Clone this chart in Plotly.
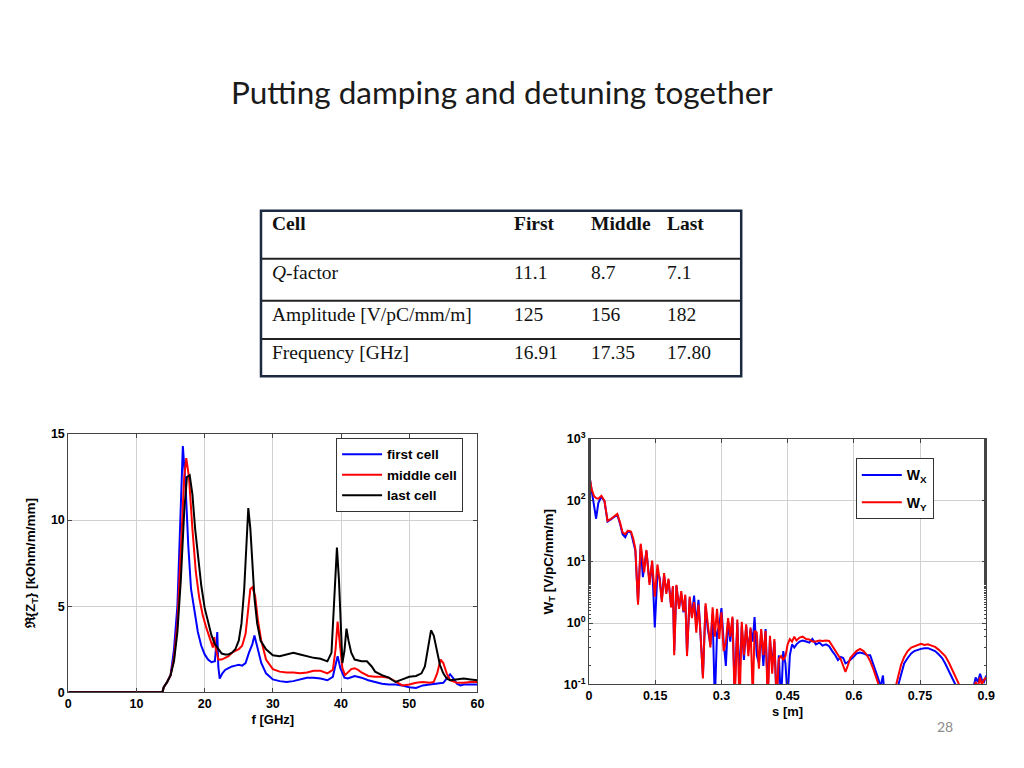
import plotly.graph_objects as go

# ---------------- Data ----------------
slide_title = "Putting damping and detuning together"
page_number = "28"

table_header = ["Cell", "First", "Middle", "Last"]
table_rows = [
    ["<i>Q</i>-factor", "11.1", "8.7", "7.1"],
    ["Amplitude [V/pC/mm/m]", "125", "156", "182"],
    ["Frequency [GHz]", "16.91", "17.35", "17.80"],
]

# Left plot: Re{Z_T} vs f
f_first = [0, 13.8, 14.0, 14.5, 15.0, 15.5, 16.0, 16.4, 16.8, 17.2, 17.6, 18.0, 18.5, 19.0, 19.5, 20.0,
           20.5, 21.0, 21.5, 21.7, 21.85, 22.0, 22.2, 22.6, 23.0, 23.5, 24.0, 24.5, 25.0, 25.5, 26.0, 26.5,
           27.0, 27.3, 27.8, 28.3, 29.0, 30.0, 31.0, 32.0, 33.0, 34.0, 35.0, 36.0, 37.0, 38.0, 38.8, 39.2,
           39.5, 39.9, 40.5, 41.0, 42.0, 43.0, 44.0, 45.0, 46.0, 47.0, 48.0, 49.0, 50.0, 51.0, 52.0, 53.0,
           54.0, 55.0, 55.5, 56.0, 56.5, 57.0, 57.5, 58.0, 59.0, 60.0]
z_first = [0, 0, 0.3, 0.6, 1.0, 2.5, 5.0, 9.5, 14.3, 12.0, 8.5, 6.0, 4.6, 3.5, 2.7, 2.2,
           1.9, 1.75, 1.8, 2.6, 3.5, 1.5, 0.8, 1.1, 1.3, 1.4, 1.5, 1.55, 1.6, 1.55, 1.7, 2.3,
           2.8, 3.3, 2.4, 1.7, 1.1, 0.75, 0.65, 0.6, 0.65, 0.75, 0.85, 0.85, 0.8, 0.7, 0.9, 1.6,
           2.1, 1.4, 0.85, 0.8, 0.95, 0.85, 0.7, 0.6, 0.5, 0.45, 0.45, 0.4, 0.3, 0.25, 0.4, 0.45,
           0.5, 0.55, 0.8, 1.05, 0.8, 0.5, 0.4, 0.45, 0.45, 0.45]

f_middle = [0, 13.8, 14.0, 14.5, 15.0, 15.5, 16.0, 16.5, 17.0, 17.3, 17.7, 18.2, 18.7, 19.2, 19.7, 20.2,
            20.7, 21.0, 21.2, 21.4, 21.6, 22.0, 22.5, 23.0, 23.5, 24.0, 24.5, 25.0, 25.5, 26.0, 26.3, 26.7,
            27.0, 27.4, 27.8, 28.3, 29.0, 30.0, 31.0, 32.0, 33.0, 34.0, 35.0, 36.0, 37.0, 38.0, 38.8, 39.2,
            39.5, 39.8, 40.2, 40.6, 41.0, 41.5, 42.0, 42.5, 43.0, 44.0, 45.0, 46.0, 47.0, 48.0, 49.0, 50.0,
            51.0, 52.0, 53.0, 53.6, 54.1, 54.6, 55.0, 55.5, 56.0, 57.0, 58.0, 59.0, 60.0]
z_middle = [0, 0, 0.3, 0.6, 1.0, 2.0, 4.0, 8.0, 12.5, 13.6, 12.5, 9.5, 7.0, 5.5, 4.5, 3.8,
            3.2, 2.8, 2.6, 3.2, 2.6, 1.9, 1.9, 2.0, 2.1, 2.3, 2.4, 2.5, 2.7, 3.4, 4.5, 6.0,
            6.1, 5.6, 4.2, 3.0, 1.9, 1.35, 1.2, 1.15, 1.15, 1.1, 1.15, 1.25, 1.25, 1.1, 1.3, 2.5,
            4.1, 3.0, 1.4, 1.0, 1.15, 1.35, 1.4, 1.3, 1.15, 0.95, 0.9, 0.9, 0.85, 0.6, 0.4, 0.45,
            0.55, 0.6, 0.55, 0.6, 1.1, 1.9, 1.7, 1.1, 0.7, 0.55, 0.55, 0.6, 0.6]

f_last = [0, 13.8, 14.0, 14.5, 15.0, 15.5, 16.0, 16.5, 17.0, 17.4, 17.8, 18.2, 18.6, 19.0, 19.5, 20.0,
          20.5, 21.0, 21.5, 22.0, 22.5, 23.0, 23.5, 24.0, 24.5, 25.0, 25.4, 25.8, 26.1, 26.4, 26.7, 27.0,
          27.3, 27.7, 28.2, 29.0, 30.0, 31.0, 32.0, 33.0, 34.0, 35.0, 36.0, 37.0, 38.0, 38.6, 39.0, 39.4,
          39.7, 40.0, 40.2, 40.5, 40.8, 41.1, 41.5, 42.0, 43.0, 43.8, 44.5, 45.0, 46.0, 47.0, 48.0, 49.0,
          50.0, 51.0, 51.8, 52.3, 52.8, 53.2, 53.6, 54.0, 54.5, 55.0, 55.5, 56.0, 57.0, 58.0, 59.0, 60.0]
z_last = [0, 0, 0.3, 0.6, 1.0, 1.8, 3.5, 6.5, 10.5, 12.5, 12.6, 11.5, 9.5, 8.0, 6.2, 4.9,
          4.0, 3.3, 2.8, 2.5, 2.25, 2.2, 2.2, 2.3, 2.5, 3.0, 4.0, 6.0, 8.5, 10.7, 9.5, 7.5,
          5.5, 4.0, 3.0, 2.5, 2.15, 2.1, 2.2, 2.3, 2.2, 2.1, 2.0, 1.95, 1.8, 2.3, 5.0, 8.4,
          6.5, 3.5, 1.7, 2.4, 3.7, 3.0, 2.3, 1.9, 1.8, 1.8, 1.5, 1.2, 1.0, 0.85, 0.6, 0.75,
          0.9, 0.95, 1.1, 1.5, 2.7, 3.6, 3.3, 2.5, 1.6, 1.1, 0.8, 0.7, 0.75, 0.8, 0.75, 0.7]

# Right plot: W_T vs s
s_m = [0.000, 0.006, 0.011, 0.016, 0.021, 0.028, 0.035, 0.042, 0.050, 0.058, 0.064, 0.070, 0.076, 0.082,
       0.088, 0.095, 0.100, 0.105, 0.111, 0.117, 0.122, 0.125, 0.130, 0.137, 0.143, 0.149, 0.155, 0.160,
       0.165, 0.170, 0.175, 0.180, 0.186, 0.190, 0.193, 0.198, 0.204, 0.209, 0.214, 0.218, 0.222, 0.228,
       0.233, 0.238, 0.243, 0.248, 0.252, 0.258, 0.264, 0.269, 0.275, 0.280, 0.285, 0.290, 0.295, 0.300,
       0.305, 0.310, 0.315, 0.320, 0.325, 0.330, 0.336, 0.341, 0.346, 0.351, 0.356, 0.361, 0.366, 0.371,
       0.375, 0.380, 0.385, 0.390, 0.395, 0.400, 0.405, 0.410, 0.415, 0.420, 0.425, 0.430, 0.435, 0.440,
       0.445, 0.450, 0.455, 0.460, 0.465, 0.470, 0.477, 0.484, 0.492, 0.499, 0.506, 0.514, 0.522, 0.529,
       0.537, 0.544, 0.551, 0.558, 0.564, 0.570, 0.576, 0.581, 0.586, 0.592, 0.599, 0.606, 0.614, 0.622,
       0.630, 0.637, 0.644, 0.651, 0.656, 0.660, 0.666, 0.670, 0.680, 0.690, 0.696, 0.701, 0.707, 0.714,
       0.722, 0.730, 0.737, 0.745, 0.752, 0.760, 0.768, 0.776, 0.784, 0.792, 0.800, 0.807, 0.815, 0.822,
       0.830, 0.837, 0.842, 0.850, 0.860, 0.870, 0.876, 0.881, 0.886, 0.890, 0.895, 0.900]
w_y = [270, 150, 118, 108, 106, 118, 98, 46, 50, 56, 60, 44, 30, 28,
       32, 31, 24, 16, 2.0, 19.6, 9.5, 6.7, 15.5, 4.2, 10.4, 2.7, 9.0, 5.0,
       2.2, 6.5, 3.0, 5.3, 1.8, 4.0, 0.30, 4.2, 1.7, 3.3, 1.55, 2.9, 0.29, 2.7,
       1.2, 2.2, 0.7, 2.0, 0.8, 0.125, 2.1, 0.9, 0.40, 1.8, 0.6, 1.7, 0.55, 1.5,
       0.35, 0.48, 1.2, 0.6, 1.28, 0.05, 1.14, 0.04, 1.05, 0.3, 0.95, 0.29, 0.85, 0.06,
       0.75, 0.7, 0.18, 0.8, 0.3, 0.75, 0.05, 0.62, 0.15, 0.55, 0.05, 0.26, 0.29, 0.25,
       0.29, 0.45, 0.55, 0.5, 0.6, 0.52, 0.58, 0.6, 0.55, 0.54, 0.5, 0.5, 0.52, 0.51,
       0.52, 0.51, 0.43, 0.36, 0.3, 0.26, 0.2, 0.16, 0.2, 0.27, 0.31, 0.35, 0.38, 0.35,
       0.3, 0.24, 0.18, 0.13, 0.10, 0.07, 0.05, 0.04, 0.03, 0.05, 0.10, 0.14, 0.21, 0.28,
       0.35, 0.40, 0.42, 0.44, 0.46, 0.44, 0.45, 0.43, 0.41, 0.37, 0.33, 0.29, 0.23, 0.18,
       0.14, 0.105, 0.08, 0.05, 0.04, 0.07, 0.11, 0.09, 0.13, 0.10, 0.12, 0.13]
w_x = [270, 140, 95, 50, 90, 115, 96, 45, 49, 55, 58, 42, 28, 25,
       31, 30, 22, 15, 2.2, 18.5, 5.6, 8.0, 15, 4.6, 9.5, 0.85, 6.5, 5.5,
       2.4, 6.0, 3.2, 5.0, 1.9, 3.8, 0.35, 4.0, 1.8, 3.0, 1.5, 2.7, 0.33, 2.5,
       1.3, 2.8, 0.9, 2.4, 0.7, 0.14, 1.9, 0.8, 0.45, 1.4, 0.05, 0.7, 0.9, 1.75,
       0.5, 0.2, 1.1, 0.5, 1.2, 0.08, 1.0, 0.12, 0.9, 0.25, 0.9, 0.35, 0.8, 0.5,
       1.25, 0.3, 0.22, 0.75, 0.2, 0.8, 0.08, 0.55, 0.2, 0.5, 0.05, 0.3, 0.05, 0.35,
       0.22, 0.06, 0.3, 0.45, 0.4, 0.45, 0.5, 0.52, 0.5, 0.48, 0.55, 0.45, 0.48, 0.43,
       0.45, 0.42, 0.35, 0.3, 0.25, 0.28, 0.27, 0.22, 0.23, 0.25, 0.28, 0.32, 0.33, 0.32,
       0.3, 0.3, 0.22, 0.15, 0.12, 0.09, 0.14, 0.06, 0.03, 0.03, 0.07, 0.10, 0.15, 0.22,
       0.27, 0.32, 0.35, 0.37, 0.38, 0.39, 0.39, 0.37, 0.35, 0.31, 0.27, 0.22, 0.17, 0.13,
       0.10, 0.07, 0.05, 0.03, 0.04, 0.09, 0.13, 0.11, 0.15, 0.12, 0.11, 0.14]

left_xticks = [0, 10, 20, 30, 40, 50, 60]
left_yticks = [0, 5, 10, 15]
right_xticks = [0, 0.15, 0.3, 0.45, 0.6, 0.75, 0.9]
right_xticklabels = ["0", "0.15", "0.3", "0.45", "0.6", "0.75", "0.9"]
right_yticks = [0.1, 1, 10, 100, 1000]
right_yticklabels = ["10<sup>-1</sup>", "10<sup>0</sup>", "10<sup>1</sup>", "10<sup>2</sup>", "10<sup>3</sup>"]

# ---------------- Figure ----------------
# The page body keeps its default 8px margin, so the figure is 1008x752 placed at (8, 8).
OFF = 8
FW, FH = 1024 - 2 * OFF, 768 - 2 * OFF
def px(x):
    return (x - OFF) / FW
def py(y):
    return 1 - (y - OFF) / FH

fig = go.Figure()

fig.add_trace(go.Scatter(x=f_first, y=z_first, mode="lines", name="first cell",
                         line=dict(color="#0000ff", width=2), xaxis="x", yaxis="y", legend="legend"))
fig.add_trace(go.Scatter(x=f_middle, y=z_middle, mode="lines", name="middle cell",
                         line=dict(color="#ff0000", width=2), xaxis="x", yaxis="y", legend="legend"))
fig.add_trace(go.Scatter(x=f_last, y=z_last, mode="lines", name="last cell",
                         line=dict(color="#000000", width=2), xaxis="x", yaxis="y", legend="legend"))

fig.add_trace(go.Scatter(x=s_m, y=w_x, mode="lines", name="W<sub>X</sub>", legendgroup="wx",
                         line=dict(color="#0000ff", width=2), xaxis="x2", yaxis="y2", legend="legend2"))
fig.add_trace(go.Scatter(x=s_m, y=w_y, mode="lines", name="W<sub>Y</sub>", legendgroup="wy",
                         line=dict(color="#ff0000", width=2), xaxis="x2", yaxis="y2", legend="legend2"))

tickfont = dict(family="Liberation Sans, Arial", size=12.5, color="#000", weight="bold")
titlefont = dict(family="Liberation Sans, Arial", size=13, color="#000", weight="bold")
ytitlefont = dict(family="Liberation Sans, Arial", size=13.5, color="#000", weight="bold")
axis_common = dict(showline=True, linecolor="#444", linewidth=1, mirror="ticks", ticks="inside",
                   ticklen=4, tickcolor="#444", showgrid=True, gridcolor="#d0d0d0", gridwidth=1,
                   zeroline=False, tickfont=tickfont)

fig.update_layout(
    width=FW, height=FH, margin=dict(l=0, r=0, t=0, b=0),
    paper_bgcolor="white", plot_bgcolor="white", showlegend=True,
    xaxis=dict(domain=[px(66), px(480)], range=[0, 60], tickvals=left_xticks, anchor="y",
               title=dict(text="f [GHz]", font=titlefont, standoff=4), **axis_common),
    yaxis=dict(domain=[py(698), py(434)], range=[0, 15], tickvals=left_yticks, anchor="x",
               title=dict(text="\u211c{Z<sub>T</sub>} [kOhm/m/mm]", font=ytitlefont, standoff=12), **axis_common),
    xaxis2=dict(domain=[px(593), px(995)], range=[0, 0.9], tickvals=right_xticks, ticktext=right_xticklabels,
                anchor="y2", title=dict(text="s [m]", font=titlefont, standoff=4), **axis_common),
    yaxis2=dict(domain=[py(690), py(439)], type="log", range=[-1, 3], tickvals=right_yticks,
                ticktext=right_yticklabels, anchor="x2",
                minor=dict(ticks="inside", ticklen=2, tickcolor="#444", showgrid=False),
                title=dict(text="W<sub>T</sub> [V/pC/mm/m]", font=ytitlefont, standoff=7), **axis_common),
    legend=dict(x=px(337), y=py(438), xanchor="left", yanchor="top", bgcolor="white",
                bordercolor="#333", borderwidth=1, font=dict(family="Liberation Sans, Arial", size=13.5,
                                                               color="#000", weight="bold"),
                tracegroupgap=0, itemwidth=40),
    legend2=dict(x=px(863), y=py(459), xanchor="left", yanchor="top", bgcolor="white",
                 bordercolor="#333", borderwidth=1, font=dict(family="Liberation Sans, Arial", size=14,
                                                                color="#000", weight="bold"),
                 tracegroupgap=6, itemwidth=40),
)

annotations = []
shapes = []

# Title
annotations.append(dict(text=slide_title, x=px(505), y=py(85), xref="paper", yref="paper",
                        xanchor="center", yanchor="middle", showarrow=False,
                        font=dict(family="Lato, Open Sans, sans-serif", size=31.5, color="#1a1a1a")))

# Table
tbl_left, tbl_right = 261, 747
row_lines = [255, 298, 337]
tbl_top, tbl_bottom = 206, 375
col_x = [270, 515, 593, 670]
row_text_y = [219, 269, 312, 351]
for yl in row_lines:
    shapes.append(dict(type="line", xref="paper", yref="paper", x0=px(tbl_left), x1=px(tbl_right),
                       y0=py(yl), y1=py(yl), line=dict(color="#222", width=2)))
shapes.append(dict(type="rect", xref="paper", yref="paper", x0=px(tbl_left), x1=px(tbl_right),
                   y0=py(tbl_bottom), y1=py(tbl_top), line=dict(color="#1c2a40", width=2.5)))
tfont = dict(family="Liberation Serif, Times New Roman, serif", size=19.5, color="#111")
for j, h in enumerate(table_header):
    annotations.append(dict(text="<b>" + h + "</b>", x=px(col_x[j]), y=py(row_text_y[0]), xref="paper",
                            yref="paper", xanchor="left", yanchor="middle", showarrow=False, font=tfont))
for i, row in enumerate(table_rows):
    for j, cell in enumerate(row):
        annotations.append(dict(text=cell, x=px(col_x[j]), y=py(row_text_y[i + 1]), xref="paper",
                                yref="paper", xanchor="left", yanchor="middle", showarrow=False, font=tfont))

# Page number
annotations.append(dict(text=page_number, x=px(953), y=py(733), xref="paper", yref="paper",
                        xanchor="center", yanchor="middle", showarrow=False,
                        font=dict(family="Lato, Open Sans, sans-serif", size=14, color="#8c8c8c")))

fig.update_layout(annotations=annotations, shapes=shapes)

fig.write_html("out.html", config={"displayModeBar": False})
